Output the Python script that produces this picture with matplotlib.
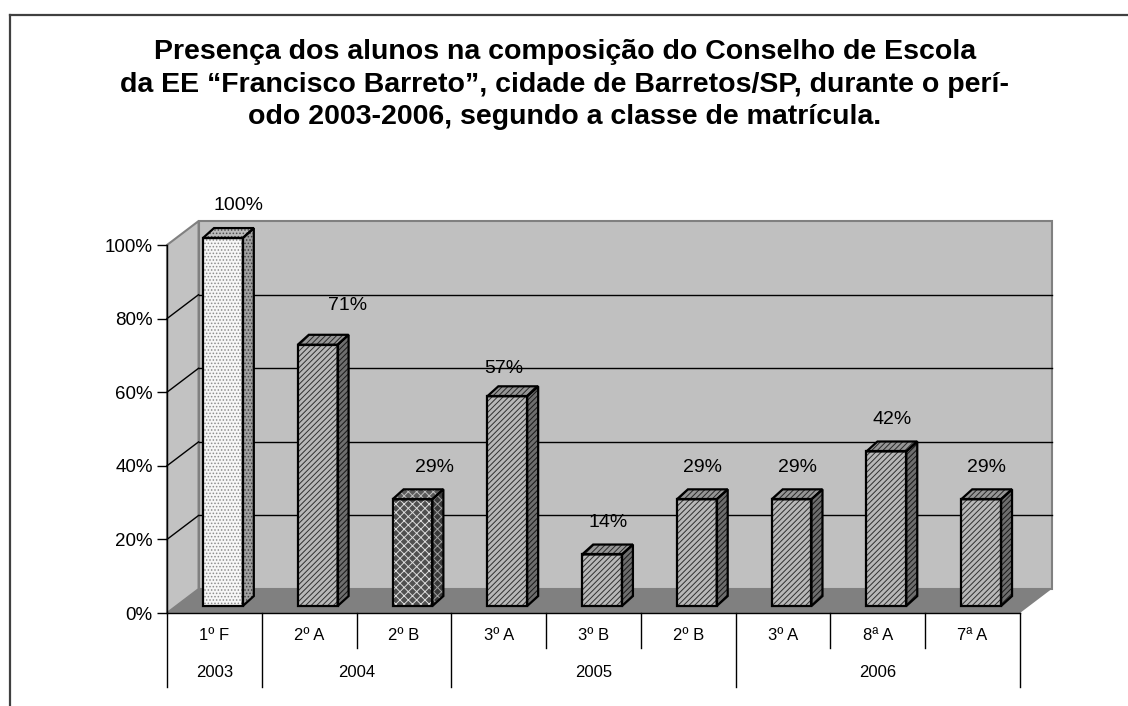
import matplotlib
matplotlib.use('Agg')
import matplotlib.pyplot as plt
from matplotlib.patches import Polygon
from matplotlib.lines import Line2D

plt.rcParams['font.family'] = ['Liberation Sans', 'DejaVu Sans']
plt.rcParams['hatch.linewidth'] = 0.7

# dados do grafico
turmas = ['1º F', '2º A', '2º B', '3º A', '3º B', '2º B', '3º A', '8ª A', '7ª A']
anos = ['2003', '2004', '2005', '2006']
turmas_por_ano = [1, 2, 3, 3]
presenca = [100, 71, 29, 57, 14, 29, 29, 42, 29]
titulo = ['Presença dos alunos na composição do Conselho de Escola',
          'da EE “Francisco Barreto”, cidade de Barretos/SP, durante o perí-',
          'odo 2003-2006, segundo a classe de matrícula.']

# estilo de cada barra e deslocamento manual dos rotulos (como no Excel)
padrao = ['claro', 'medio', 'escuro', 'medio', 'medio', 'medio', 'medio', 'medio', 'medio']
desloc_x = [0.16, 0.32, 0.23, -0.04, 0.06, 0.06, 0.06, 0.06, 0.06]
desloc_y = [0, 1.9, 0, -1.2, 0, 0, 0, 0, 0]

estilos = {
    'claro': {'frente': ('#f6f6f6', '#8c8c8c', '.....'),
              'lado': ('#a0a0a0', '#404040', '.....'),
              'topo': ('#bcbcbc', '#505050', '.....')},
    'medio': {'frente': ('#b8b8b8', '#303030', '//////'),
              'lado': ('#6e6e6e', '#181818', '//////'),
              'topo': ('#969696', '#282828', '//////')},
    'escuro': {'frente': ('#505050', '#dcdcdc', 'xxxx'),
               'lado': ('#383838', '#a0a0a0', 'xxxx'),
               'topo': ('#5a5a5a', '#c0c0c0', 'xxxx')},
}

# profundidade do "3D"
PX, PY = 0.333, 6.5        # parede
BDX, BDY = 0.09, 1.9       # posicao da barra no piso
BW = 0.42                  # largura da barra
BPX, BPY = 0.116, 2.7      # profundidade da barra

fig = plt.figure(figsize=(11.28, 7.06), dpi=100)
ax = fig.add_axes([167 / 1128, 93 / 706, 853 / 1128, 368 / 706])
ax.set_xlim(0, 9)
ax.set_ylim(0, 100)
ax.patch.set_visible(False)
for s in ['top', 'right', 'bottom']:
    ax.spines[s].set_visible(False)
ax.spines['left'].set_linewidth(1)
ax.set_xticks([])
ax.set_yticks(range(0, 101, 20))
ax.set_yticklabels([f'{t}%' for t in range(0, 101, 20)])
ax.tick_params(axis='y', length=7.2, width=1, pad=3, labelsize=13.5)

n = len(turmas)

# parede do fundo, parede lateral e piso
ax.add_patch(Polygon([(PX, PY), (n + PX, PY), (n + PX, 100 + PY), (PX, 100 + PY)],
                     facecolor='#c0c0c0', edgecolor='#808080', lw=1.5, clip_on=False, zorder=0.5))
ax.add_patch(Polygon([(0, 0), (PX, PY), (PX, 100 + PY), (0, 100)],
                     facecolor='#c2c2c2', edgecolor='#808080', lw=1.5, clip_on=False, zorder=0.5))
ax.add_patch(Polygon([(0, 0), (n, 0), (n + PX, PY), (PX, PY)],
                     facecolor='#808080', edgecolor='none', clip_on=False, zorder=0.6))

# linhas de grade
for t in range(20, 100, 20):
    ax.plot([PX, n + PX], [t + PY, t + PY], color='black', lw=1, zorder=0.7, clip_on=False)
    ax.plot([0, PX], [t, t + PY], color='black', lw=1, zorder=0.7, clip_on=False)


def face(pts, cor, z):
    fc, hc, h = cor
    ax.add_patch(Polygon(pts, closed=True, facecolor=fc, edgecolor=hc, hatch=h, lw=0,
                         clip_on=False, zorder=z))
    ax.add_patch(Polygon(pts, closed=True, fill=False, edgecolor='black', lw=1.6,
                         joinstyle='miter', clip_on=False, zorder=z + 0.1))


xs = [i + 0.5 + BDX for i in range(n)]
for i, (x, v) in enumerate(zip(xs, presenca)):
    est = estilos[padrao[i]]
    x0, x1 = x - BW / 2, x + BW / 2
    y0, y1 = BDY, BDY + v
    z = 2 + i
    face([(x0, y0), (x1, y0), (x1, y1), (x0, y1)], est['frente'], z)
    face([(x1, y0), (x1 + BPX, y0 + BPY), (x1 + BPX, y1 + BPY), (x1, y1)], est['lado'], z)
    face([(x0, y1), (x1, y1), (x1 + BPX, y1 + BPY), (x0 + BPX, y1 + BPY)], est['topo'], z)
    ax.text(x + desloc_x[i], y1 + 8.7 + desloc_y[i], f'{v}%', ha='center', va='center',
            fontsize=14, zorder=20)

# tabela de categorias
ax.plot([0, n], [0, 0], color='black', lw=1, clip_on=False, zorder=10)
limites = []
acc = 0
for k in turmas_por_ano:
    acc += k
    limites.append(acc)
ax.plot([0, 0], [0, -20.1], color='black', lw=1, clip_on=False)
for i in range(1, n + 1):
    fundo = -20.1 if i in limites else -9.5
    ax.plot([i, i], [0, fundo], color='black', lw=1, clip_on=False)
for i, t in enumerate(turmas):
    ax.text(i + 0.5, -6.0, t, ha='center', va='center', fontsize=12)
ini = 0
for ano, k in zip(anos, turmas_por_ano):
    ax.text(ini + k / 2, -16.3, ano, ha='center', va='center', fontsize=12)
    ini += k

# titulo
for j, linha in enumerate(titulo):
    fig.text(565 / 1128, 1 - (59 + 32.5 * j) / 706, linha, ha='center', va='baseline',
             fontsize=20.5, fontweight='bold')

# moldura
fig.add_artist(Line2D([10 / 1128, 1], [1 - 15 / 706, 1 - 15 / 706], color='#404040', lw=1.6))
fig.add_artist(Line2D([10 / 1128, 10 / 1128], [0, 1 - 15 / 706], color='#404040', lw=1.6))

fig.savefig('out.png', dpi=100)
